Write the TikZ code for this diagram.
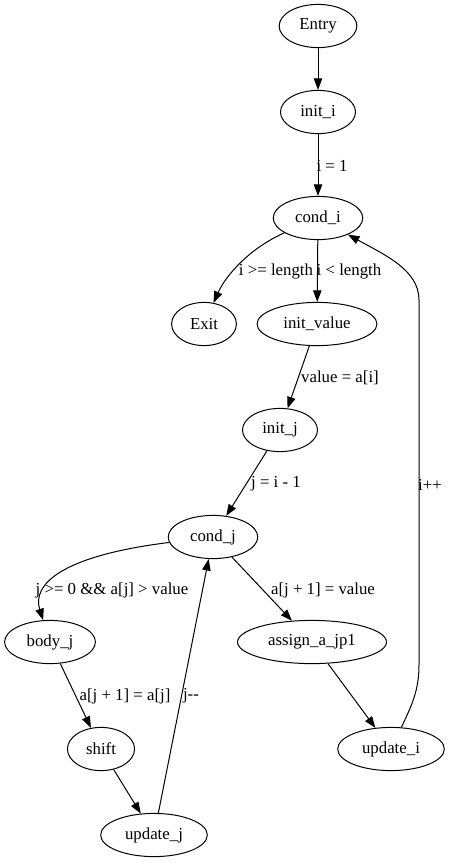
\documentclass[tikz,border=0pt]{standalone}
\usepackage{fontspec}
\setmainfont{Liberation Serif}
\usetikzlibrary{shapes.geometric,arrows.meta}

\begin{document}
\begin{tikzpicture}[x=1pt,y=-1pt,line width=1pt,>={Triangle[length=11.5pt,width=8.4pt]},
  state/.style={ellipse,draw,inner xsep=8.8pt,inner ysep=2pt,minimum width=64.8pt,minimum height=43.2pt,font=\fontsize{16.8}{20}\selectfont},
  elabel/.style={inner sep=0pt,font=\fontsize{16.8}{20}\selectfont}]
  \useasboundingbox (0,0) rectangle (453,863);
  % nodes
  \node[state] (entry) at (318,26) {Entry};
  \node[state] (init_i) at (318,112) {init\_i};
  \node[state] (cond_i) at (318,218) {cond\_i};
  \node[state] (exit) at (204,324) {Exit};
  \node[state] (init_value) at (317,324) {init\_value};
  \node[state] (init_j) at (280,430) {init\_j};
  \node[state] (cond_j) at (213,537) {cond\_j};
  \node[state] (body_j) at (50,642) {body\_j};
  \node[state] (assign_a_jp1) at (312,642) {assign\_a\_jp1};
  \node[state] (shift) at (101,749) {shift};
  \node[state] (update_i) at (391,749) {update\_i};
  \node[state] (update_j) at (154,835) {update\_j};
  % edge labels
  \node[elabel] (l_i1) at (332,166) {i = 1};
  \node[elabel] (l_ige) at (276,271) {i >= length};
  \node[elabel] (l_ilt) at (349,271) {i < length};
  \node[elabel] (l_val) at (340,378) {value = a[i]};
  \node[elabel] (l_j) at (276,484) {j = i - 1};
  \node[elabel] (l_loop) at (112,590) {j >= 0 \&\& a[j] > value};
  \node[elabel] (l_assign) at (323,590) {a[j + 1] = value};
  \node[elabel] (l_shift) at (125,696) {a[j + 1] = a[j]};
  \node[elabel] (l_jdec) at (191,696) {j-{}-};
  \node[elabel] (l_iinc) at (430,485) {i++};
  % edges
  \draw[->] (entry)--(init_i);
  \draw[->] (init_i)--(cond_i);
  \draw[->] (cond_i) .. controls (250,248) and (226,275) .. (exit);
  \draw[->] (cond_i)--(init_value);
  \draw[->] (init_value)--(init_j);
  \draw[->] (init_j)--(cond_j);
  \draw[->] (cond_j) .. controls (60,556) and (32,585) .. (body_j);
  \draw[->] (cond_j)--(assign_a_jp1);
  \draw[->] (body_j)--(shift);
  \draw[->] (shift)--(update_j);
  \draw[->] (update_j)--(cond_j);
  \draw[->] (assign_a_jp1)--(update_i);
  \coordinate (up_low) at (419,665);
  \coordinate (up_high) at (419,300);
  \draw[->] (update_i) .. controls (412,705) and (419,690) .. (up_low) -- (up_high)
    .. controls (419,270) and (385,255) .. (cond_i);
\end{tikzpicture}
\end{document}
